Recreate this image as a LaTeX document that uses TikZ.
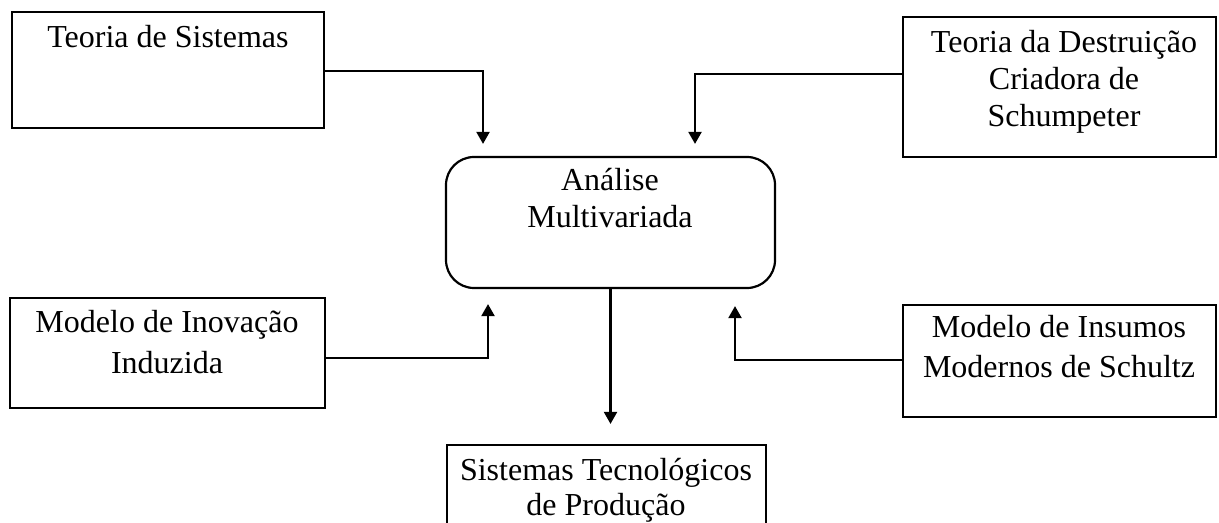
\documentclass[tikz,border=0pt]{standalone}
\usepackage{fontspec}
\setmainfont{Liberation Serif}
\usetikzlibrary{arrows.meta}
\begin{document}
\begin{tikzpicture}[x=0.5pt,y=-0.5pt,
  box/.style={draw, line width=1.1pt, inner sep=0pt},
  lbl/.style={anchor=base, inner sep=0pt, font=\fontsize{16}{18}\selectfont},
  arr/.style={line width=1.1pt, -{Triangle[width=6.5pt,length=6pt]}}]
\useasboundingbox (0,0) rectangle (1219,523);
% boxes
\node[box, minimum width=156pt, minimum height=58pt] (b1) at (168,70) {};
\node[box, minimum width=156.5pt, minimum height=70pt] (b2) at (1059.5,87) {};
\node[box, rounded corners=14pt, minimum width=164.5pt, minimum height=65.5pt] (c) at (610.5,222.5) {};
\node[box, minimum width=157.5pt, minimum height=55pt] (b3) at (167.5,353) {};
\node[box, minimum width=156.5pt, minimum height=56pt] (b4) at (1059.5,361) {};
\node[box, minimum width=159.5pt, minimum height=44pt] (b5) at (606.5,489) {};
% texts
\node[lbl] (t1) at (168,48) {Teoria de Sistemas};
\node[lbl] (t2a) at (1064,53) {Teoria da Destruição};
\node[lbl] (t2b) at (1064,90) {Criadora de};
\node[lbl] (t2c) at (1064,127) {Schumpeter};
\node[lbl] (tca) at (610,191) {Análise};
\node[lbl] (tcb) at (610,228) {Multivariada};
\node[lbl] (t3a) at (167,333) {Modelo de Inovação};
\node[lbl] (t3b) at (167,373) {Induzida};
\node[lbl] (t4a) at (1059,337) {Modelo de Insumos};
\node[lbl] (t4b) at (1059,377) {Modernos de Schultz};
\node[lbl] (t5a) at (606,480) {Sistemas Tecnológicos};
\node[lbl] (t5b) at (606,515) {de Produção};
% bend coordinates
\coordinate (h1) at (0,71);
\coordinate (v1) at (483,0);
\coordinate (h2) at (0,74);
\coordinate (v2) at (695,0);
\coordinate (h3) at (0,358);
\coordinate (v3) at (488,0);
\coordinate (h4) at (0,360);
\coordinate (v4) at (735,0);
% connectors
\draw[arr, shorten >=6pt] (b1.east |- h1) -| (c.north -| v1);
\draw[arr, shorten >=6pt] (b2.west |- h2) -| (c.north -| v2);
\draw[arr, shorten >=7.5pt] (b3.east |- h3) -| (c.south -| v3);
\draw[arr, shorten >=8.5pt] (b4.west |- h4) -| (c.south -| v4);
\draw[arr, shorten >=10pt] (c.south) -- (c.south |- b5.north);
\end{tikzpicture}
\end{document}
